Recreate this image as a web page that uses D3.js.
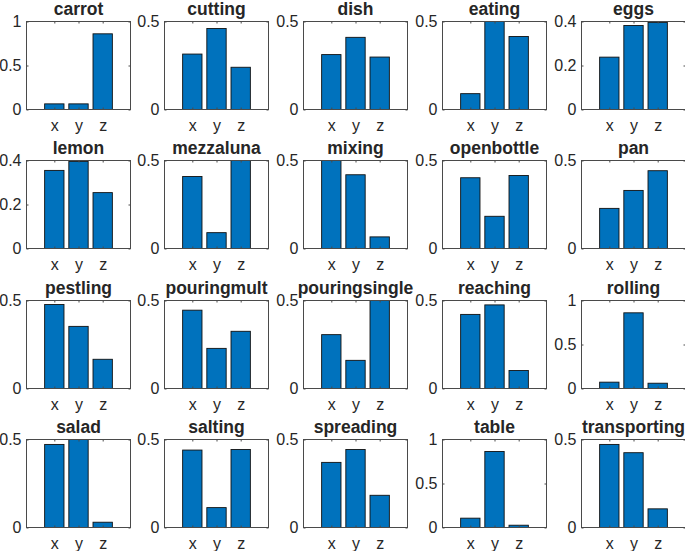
<!DOCTYPE html>
<html>
<head>
<meta charset="utf-8">
<script src="https://cdn.jsdelivr.net/npm/d3@7"></script>
<style>
  html, body { margin: 0; padding: 0; background: #fff; }
  svg { display: block; }
  text { font-family: "Liberation Sans", Arial, Helvetica, sans-serif; fill: #262626; }
</style>
</head>
<body>
<svg id="chart" width="685" height="551"></svg>
<script>
// ---- data ----
const categories = ["x", "y", "z"];
const titles = ["carrot", "cutting", "dish", "eating", "eggs",
                "lemon", "mezzaluna", "mixing", "openbottle", "pan",
                "pestling", "pouringmult", "pouringsingle", "reaching", "rolling",
                "salad", "salting", "spreading", "table", "transporting"];
const carrot = [0.064, 0.064, 0.86];
const cutting = [0.315, 0.46, 0.24];
const dish = [0.312, 0.41, 0.298];
const eating = [0.09, 0.5, 0.415];
const eggs = [0.238, 0.382, 0.396];
const lemon = [0.355, 0.396, 0.254];
const mezzaluna = [0.409, 0.09, 0.5];
const mixing = [0.5, 0.419, 0.066];
const openbottle = [0.402, 0.183, 0.415];
const pan = [0.228, 0.33, 0.442];
const pestling = [0.477, 0.353, 0.166];
const pouringmult = [0.445, 0.228, 0.325];
const pouringsingle = [0.306, 0.16, 0.5];
const reaching = [0.421, 0.475, 0.102];
const rolling = [0.072, 0.86, 0.06];
const salad = [0.472, 0.5, 0.03];
const salting = [0.44, 0.113, 0.443];
const spreading = [0.37, 0.443, 0.183];
const table = [0.106, 0.864, 0.026];
const transporting = [0.472, 0.425, 0.106];
const seriesValues = [carrot, cutting, dish, eating, eggs,
                      lemon, mezzaluna, mixing, openbottle, pan,
                      pestling, pouringmult, pouringsingle, reaching, rolling,
                      salad, salting, spreading, table, transporting];
const yMaxes = [1, 0.5, 0.5, 0.5, 0.4,
                0.4, 0.5, 0.5, 0.5, 0.5,
                0.5, 0.5, 0.5, 0.5, 1,
                0.5, 0.5, 0.5, 1, 0.5];
const tickSets = {"1": [0, 0.5, 1], "0.5": [0, 0.5], "0.4": [0, 0.2, 0.4]};
const tickLabelsFmt = v => (v === 0 ? "0" : String(v));

// ---- layout ----
const svg = d3.select("#chart");
const nCols = 5;
const colLeft0 = 25.5, colStep = 138.8, axW = 104;
const rowTop0 = 21, rowStep = 139.3, axH = 88;
const barColor = "#0072BD";
const axisColor = "#4a4a4a";

const x = d3.scaleLinear().domain([-0.15, 4.15]).range([0, axW]);
const barW = x(0.8) - x(0);

titles.forEach((t, i) => {
  const col = i % nCols, row = Math.floor(i / nCols);
  const left = Math.round(colLeft0 + col * colStep) + 0.5;
  const top = Math.round(rowTop0 + row * rowStep) + 0.5;
  const yMax = yMaxes[i];
  const y = d3.scaleLinear().domain([0, yMax]).range([axH, 0]);
  const ticks = tickSets[String(yMax)];
  const g = svg.append("g").attr("transform", `translate(${left},${top})`);

  const clipId = "clip" + i;
  g.append("clipPath").attr("id", clipId)
    .append("rect").attr("x", 0).attr("y", 0).attr("width", axW).attr("height", axH);

  // bars
  g.append("g").attr("clip-path", `url(#${clipId})`)
    .selectAll("rect").data(seriesValues[i]).enter().append("rect")
    .attr("x", (d, k) => x(k + 1) - barW / 2)
    .attr("y", d => y(d))
    .attr("width", barW)
    .attr("height", d => y(0) - y(d))
    .attr("fill", barColor)
    .attr("stroke", "#111")
    .attr("stroke-width", 0.9);

  // y axis (left) using d3 axis with inward ticks
  const yAxis = d3.axisLeft(y).tickValues(ticks).tickFormat(tickLabelsFmt)
    .tickSizeInner(-2).tickSizeOuter(0).tickPadding(5);
  const ya = g.append("g").call(yAxis);
  ya.select(".domain").remove();
  ya.selectAll("line").attr("stroke", axisColor);
  ya.selectAll("text").attr("font-size", 16).attr("fill", "#262626")
    .attr("font-family", "'Liberation Sans', Arial, sans-serif");

  // right ticks
  const yAxisR = d3.axisRight(y).tickValues(ticks).tickFormat("")
    .tickSizeInner(-2).tickSizeOuter(0);
  const yr = g.append("g").attr("transform", `translate(${axW},0)`).call(yAxisR);
  yr.select(".domain").remove();
  yr.selectAll("line").attr("stroke", axisColor);

  // x axis bottom
  const xAxis = d3.axisBottom(x).tickValues([1, 2, 3]).tickFormat(d => categories[d - 1])
    .tickSizeInner(-2).tickSizeOuter(0).tickPadding(10);
  const xa = g.append("g").attr("transform", `translate(0,${axH})`).call(xAxis);
  xa.select(".domain").remove();
  xa.selectAll("line").attr("stroke", axisColor);
  xa.selectAll("text").attr("font-size", 16).attr("fill", "#262626")
    .attr("font-family", "'Liberation Sans', Arial, sans-serif");

  // x axis top ticks
  const xAxisT = d3.axisTop(x).tickValues([1, 2, 3]).tickFormat("")
    .tickSizeInner(-2).tickSizeOuter(0);
  const xt = g.append("g").call(xAxisT);
  xt.select(".domain").remove();
  xt.selectAll("line").attr("stroke", axisColor);

  // box
  g.append("rect").attr("x", 0).attr("y", 0).attr("width", axW).attr("height", axH)
    .attr("fill", "none").attr("stroke", axisColor).attr("stroke-width", 1)
    .attr("shape-rendering", "crispEdges");

  // title
  g.append("text").attr("x", axW / 2).attr("y", -7)
    .attr("text-anchor", "middle")
    .attr("font-size", 17.5).attr("font-weight", "bold")
    .attr("fill", "#000")
    .text(t);
});
</script>
</body>
</html>
